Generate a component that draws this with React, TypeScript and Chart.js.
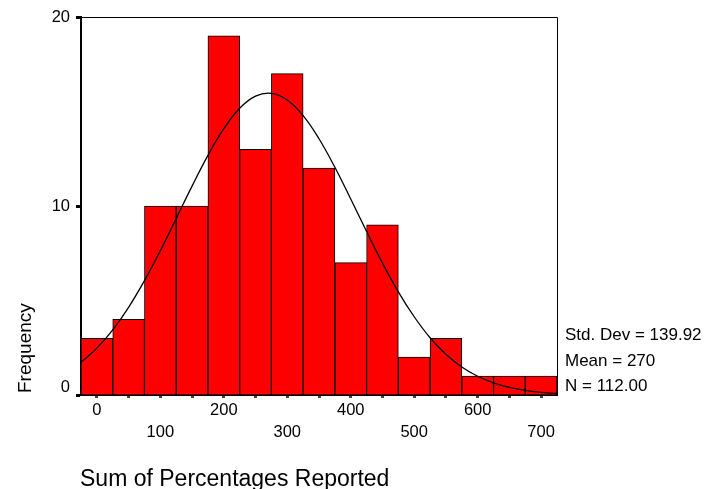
import React, { useEffect, useRef } from 'react';
import { Chart, registerables } from 'chart.js';

Chart.register(...registerables);

// Histogram bins (bin centres, width 50)
const binCenters = [0, 50, 100, 150, 200, 250, 300, 350, 400, 450, 500, 550, 600, 650, 700];
const frequencies = [3, 4, 10, 10, 19, 13, 17, 12, 7, 9, 2, 3, 1, 1, 1];

// Fitted normal curve
const curveX = [-25, 0, 25, 50, 75, 100, 125, 150, 175, 200, 225, 250, 275, 300, 325, 350, 375, 400, 425, 450, 475, 500, 525, 550, 575, 600, 625, 650, 675, 700, 725];
const curveY = [1.73, 2.48, 3.45, 4.64, 6.05, 7.63, 9.34, 11.05, 12.68, 14.09, 15.17, 15.81, 15.96, 15.61, 14.78, 13.56, 12.05, 10.37, 8.65, 6.98, 5.46, 4.14, 3.03, 2.16, 1.48, 0.99, 0.64, 0.4, 0.24, 0.14, 0.08];

const xMin = -25;
const xMax = 725;
const yTickValues = [0, 10, 20];
const statLines = ['Std. Dev = 139.92', 'Mean = 270', 'N = 112.00'];
const xTitle = 'Sum of Percentages Reported';
const yTitle = 'Frequency';

const FONT = 'Arial, "Liberation Sans", Helvetica, sans-serif';

export default function App() {
  const ref = useRef<HTMLCanvasElement | null>(null);

  useEffect(() => {
    if (!ref.current) return;

    const framePlugin = {
      id: 'frameAndText',
      afterDraw(chart: any) {
        const { ctx, chartArea } = chart;
        ctx.save();
        // top and right border
        ctx.strokeStyle = '#000';
        ctx.lineWidth = 1;
        ctx.beginPath();
        ctx.moveTo(chartArea.left, chartArea.top + 0.5);
        ctx.lineTo(chartArea.right + 0.5, chartArea.top + 0.5);
        ctx.lineTo(chartArea.right + 0.5, chartArea.bottom);
        ctx.stroke();

        ctx.fillStyle = '#000';
        // stats
        ctx.font = `17px ${FONT}`;
        ctx.textAlign = 'left';
        ctx.textBaseline = 'alphabetic';
        const baselines = [340, 366, 391];
        statLines.forEach((s, i) => ctx.fillText(s, chartArea.right + 8, baselines[i]));

        // x title
        ctx.font = `23px ${FONT}`;
        ctx.fillText(xTitle, chartArea.left - 1, 486);

        // y title (rotated)
        ctx.font = `19px ${FONT}`;
        ctx.translate(31, 393);
        ctx.rotate(-Math.PI / 2);
        ctx.fillText(yTitle, 0, 0);
        ctx.restore();
      },
    };

    const chart = new Chart(ref.current, {
      type: 'bar',
      data: {
        datasets: [
          {
            type: 'line',
            data: curveX.map((x, i) => ({ x, y: curveY[i] })),
            borderColor: '#000',
            borderWidth: 1.3,
            pointRadius: 0,
            tension: 0.4,
            fill: false,
            order: 0,
          } as any,
          {
            type: 'bar',
            data: binCenters.map((x, i) => ({ x, y: frequencies[i] })),
            backgroundColor: '#ff0000',
            borderColor: '#000',
            borderWidth: 1,
            barPercentage: 1,
            categoryPercentage: 1,
            order: 1,
          } as any,
        ],
      },
      options: {
        responsive: false,
        animation: false,
        events: [],
        layout: { padding: { left: 0, right: 149, top: 17, bottom: 0 } },
        plugins: {
          legend: { display: false },
          tooltip: { enabled: false },
          title: { display: false },
        },
        scales: {
          x: {
            type: 'linear',
            min: xMin,
            max: xMax,
            offset: false,
            afterBuildTicks(scale: any) {
              scale.ticks = binCenters.map((v) => ({ value: v }));
            },
            afterFit(scale: any) {
              scale.height = 94;
            },
            grid: {
              drawOnChartArea: false,
              offset: false,
              tickLength: 3,
              tickWidth: 3,
              color: '#444',
            },
            border: { display: true, color: '#000', width: 2 },
            ticks: {
              autoSkip: false,
              maxRotation: 0,
              minRotation: 0,
              padding: 1,
              color: '#000',
              font: { family: FONT, size: 16.5, lineHeight: 22 / 16.5 },
              callback(value: any) {
                const v = Number(value);
                if (v % 200 === 0) return String(v);
                if (v % 100 === 0) return ['', String(v)];
                return '';
              },
            },
          },
          y: {
            type: 'linear',
            min: 0,
            max: 20,
            afterBuildTicks(scale: any) {
              scale.ticks = yTickValues.map((v) => ({ value: v }));
            },
            afterFit(scale: any) {
              scale.width = 81;
            },
            grid: {
              drawOnChartArea: false,
              tickLength: 5,
              tickWidth: 3,
              color: '#000',
            },
            border: { display: true, color: '#000', width: 2 },
            ticks: {
              padding: 6,
              color: '#000',
              font: { family: FONT, size: 16.5, lineHeight: 16 / 16.5 },
              callback(value: any) {
                const v = Number(value);
                return v === 0 ? ['0', ''] : String(v);
              },
            },
          },
        },
      } as any,
      plugins: [framePlugin],
    });

    return () => chart.destroy();
  }, []);

  return (
    <div style={{ position: 'absolute', left: 0, top: 0, width: 706, height: 489, background: '#fff' }}>
      <canvas ref={ref} width={706} height={489} style={{ display: 'block' }} />
    </div>
  );
}
